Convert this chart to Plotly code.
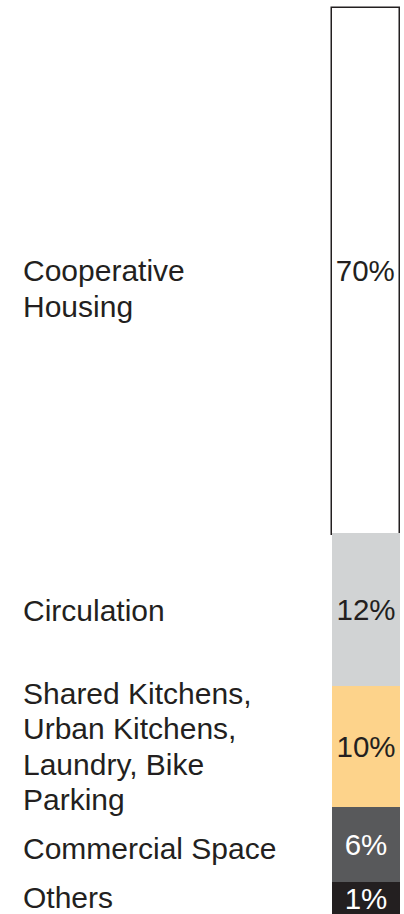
import plotly.graph_objects as go

# Share of floor area by use
label_lines = [
    ["Cooperative", "Housing"],
    ["Circulation"],
    ["Shared Kitchens,", "Urban Kitchens,", "Laundry, Bike", "Parking"],
    ["Commercial Space"],
    ["Others"],
]
shares = [70, 12, 10, 6, 1]
fills = ["#ffffff", "#d1d3d4", "#fdd38b", "#58595b", "#231f20"]
text_colors = ["#231f20", "#231f20", "#231f20", "#ffffff", "#ffffff"]

W, H = 404, 914
INK = "#231f20"
FONT = "Liberation Sans, Arial, Helvetica, sans-serif"

# Vertical band (px from top) given to each segment of the column
band_edges = [8, 534.5, 686, 807, 882, 914]
band_tops = [8, 533, 686, 807, 882]
# Centre of each text line (px from top) for the side labels
line_centres = [[271, 306], [610], [693, 728, 764, 799], [848], [897]]

# Column horizontal extent
col_left, col_right, pad = 332, 400, 2
x_unit = col_right - col_left
x_range = [-0.5 - pad / x_unit, 0.5 + pad / x_unit]
x_domain = [(col_left - pad) / W, (col_right + pad) / W]

fig = go.Figure()
layout_axes = {}
for i, (v, fc, tc) in enumerate(zip(shares, fills, text_colors)):
    suffix = "" if i == 0 else str(i + 1)
    top_px = band_tops[i]
    base_px = band_edges[i + 1]
    k = v / (base_px - top_px)  # value units per pixel
    if i == 0:
        pad_top, pad_bot = 2, 2.5
        line = dict(color=INK, width=1.5)
    else:
        pad_top, pad_bot = 0, 0
        line = dict(width=0)
    dom_top = top_px - pad_top
    dom_bot = base_px + pad_bot
    fig.add_trace(go.Bar(
        x=[0], y=[v], width=[1],
        marker=dict(color=fc, line=line),
        texttemplate="%{y}%",
        textposition="inside",
        insidetextanchor="middle",
        textangle=0,
        constraintext="none",
        cliponaxis=False,
        textfont=dict(size=29.5, color=tc, family=FONT),
        xaxis="x" + suffix, yaxis="y" + suffix,
        hoverinfo="skip",
    ))
    layout_axes["xaxis" + suffix] = dict(
        domain=x_domain, range=x_range, visible=False, fixedrange=True,
        anchor="y" + suffix,
    )
    layout_axes["yaxis" + suffix] = dict(
        domain=[1 - dom_bot / H, 1 - dom_top / H],
        range=[-pad_bot * k, v + pad_top * k],
        visible=False, fixedrange=True, anchor="x" + suffix,
    )

annotations = []
for lines, centres in zip(label_lines, line_centres):
    for text, cy in zip(lines, centres):
        annotations.append(dict(
            text=text, x=21 / W, y=1 - cy / H, xref="paper", yref="paper",
            xanchor="left", yanchor="middle", showarrow=False,
            font=dict(size=30, color=INK, family=FONT),
        ))

fig.update_layout(
    width=W, height=H,
    margin=dict(l=0, r=0, t=0, b=0),
    paper_bgcolor="#ffffff",
    plot_bgcolor="rgba(0,0,0,0)",
    showlegend=False,
    bargap=0,
    annotations=annotations,
    **layout_axes,
)

fig.write_html("out.html")
